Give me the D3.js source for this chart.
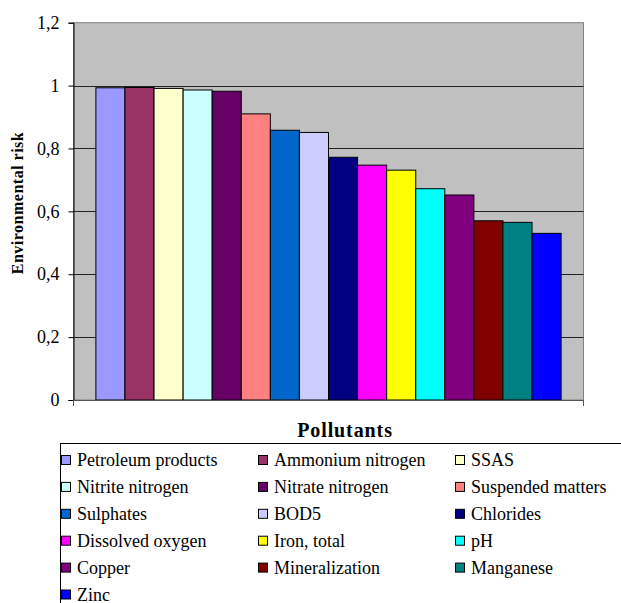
<!DOCTYPE html>
<html>
<head>
<meta charset="utf-8">
<script src="https://cdn.jsdelivr.net/npm/d3@7"></script>
</head>
<body style="margin:0;background:#fff">
<svg id="chart" width="621" height="603" style="display:block"></svg>
<script>
const pollutants = ["Petroleum products", "Ammonium nitrogen", "SSAS", "Nitrite nitrogen", "Nitrate nitrogen",
  "Suspended matters", "Sulphates", "BOD5", "Chlorides", "Dissolved oxygen", "Iron, total", "pH",
  "Copper", "Mineralization", "Manganese", "Zinc"];
const risk = [0.993, 0.994, 0.991, 0.986, 0.982, 0.910, 0.858, 0.851, 0.772, 0.747, 0.731, 0.672,
  0.652, 0.570, 0.565, 0.530];
const colors = ["#9999FF", "#993366", "#FFFFCC", "#CCFFFF", "#660066", "#FF8080", "#0066CC", "#CCCCFF",
  "#000080", "#FF00FF", "#FFFF00", "#00FFFF", "#800080", "#800000", "#008080", "#0000FF"];
const yTicks = [0, 0.2, 0.4, 0.6, 0.8, 1, 1.2];
const yTickLabels = ["0", "0,2", "0,4", "0,6", "0,8", "1", "1,2"];

const FONT = "Liberation Serif";
const svg = d3.select("#chart");
const plot = { left: 73.5, right: 583.5, top: 22.7, bottom: 400 };

const y = d3.scaleLinear().domain([0, 1.2]).range([plot.bottom, plot.top]);
const x = d3.scaleBand().domain(pollutants).range([plot.left, plot.right]).paddingInner(0).paddingOuter(0.77);
const color = d3.scaleOrdinal().domain(pollutants).range(colors);

// plot background
svg.append("rect")
  .attr("x", plot.left).attr("y", plot.top)
  .attr("width", plot.right - plot.left).attr("height", plot.bottom - plot.top)
  .attr("fill", "#C0C0C0").attr("stroke", "#808080").attr("stroke-width", 1);

// gridlines
svg.append("g").selectAll("line")
  .data(yTicks.filter(t => t > 0 && t < 1.2))
  .join("line")
  .attr("x1", plot.left).attr("x2", plot.right)
  .attr("y1", d => Math.round(y(d)) + 0.5).attr("y2", d => Math.round(y(d)) + 0.5)
  .attr("stroke", "#222").attr("stroke-width", 1);

// bars
svg.append("g").selectAll("rect")
  .data(pollutants.map((p, i) => ({ p, v: risk[i] })))
  .join("rect")
  .attr("x", d => x(d.p))
  .attr("y", d => y(d.v))
  .attr("width", x.bandwidth())
  .attr("height", d => y(0) - y(d.v))
  .attr("fill", d => color(d.p))
  .attr("stroke", "#000").attr("stroke-width", 1);

// y axis
const yAxis = d3.axisLeft(y).tickValues(yTicks)
  .tickFormat((d, i) => yTickLabels[i]).tickSize(5).tickPadding(9);
const gy = svg.append("g").attr("transform", `translate(${plot.left},0)`).call(yAxis);
gy.attr("font-family", FONT).attr("font-size", 18);
gy.select(".domain").attr("stroke", "#000");
gy.selectAll(".tick line").attr("stroke", "#000");
gy.selectAll(".tick text")
  .attr("font-family", FONT).attr("font-size", 18).attr("fill", "#000");

// x axis line with end ticks
const gx = svg.append("g");
gx.append("line").attr("x1", plot.left).attr("x2", plot.right)
  .attr("y1", plot.bottom + 0.5).attr("y2", plot.bottom + 0.5).attr("stroke", "#555");
gx.selectAll("line.t").data([plot.left, plot.right]).join("line")
  .attr("class", "t")
  .attr("x1", d => d).attr("x2", d => d)
  .attr("y1", plot.bottom).attr("y2", plot.bottom + 6).attr("stroke", "#555");

// axis titles
svg.append("text")
  .attr("transform", `translate(23,203) rotate(-90)`)
  .attr("text-anchor", "middle")
  .attr("font-family", FONT).attr("font-size", 16).attr("font-weight", "bold")
  .attr("letter-spacing", 0.5)
  .text("Environmental risk");

svg.append("text")
  .attr("x", 345).attr("y", 437)
  .attr("text-anchor", "middle")
  .attr("font-family", FONT).attr("font-size", 20).attr("font-weight", "bold")
  .attr("letter-spacing", 0.9)
  .text("Pollutants");

// legend
svg.append("rect")
  .attr("x", 60.5).attr("y", 443.5).attr("width", 620).attr("height", 200)
  .attr("fill", "#fff").attr("stroke", "#000").attr("stroke-width", 1);

const colX = [61, 258, 455];
const legend = svg.append("g").selectAll("g")
  .data(pollutants)
  .join("g")
  .attr("transform", (d, i) => `translate(${colX[i % 3]},${466 + Math.floor(i / 3) * 26.9})`);
legend.append("rect")
  .attr("x", 0.5).attr("y", -10.5).attr("width", 9).attr("height", 9)
  .attr("fill", d => color(d)).attr("stroke", "#000").attr("stroke-width", 1);
legend.append("text")
  .attr("x", 16).attr("y", 0)
  .attr("font-family", FONT).attr("font-size", 18)
  .text(d => d);
</script>
</body>
</html>
